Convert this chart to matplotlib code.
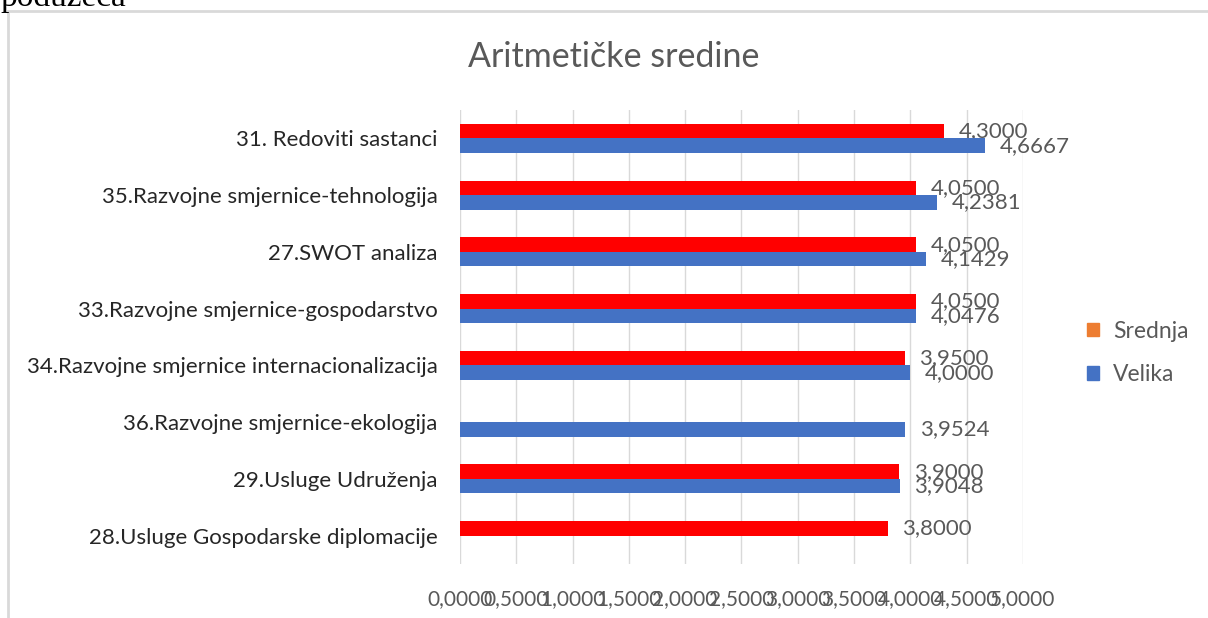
import numpy as np
import matplotlib
matplotlib.use("Agg")
import matplotlib.pyplot as plt
from matplotlib.patches import Patch, Rectangle
from matplotlib.ticker import FuncFormatter, MultipleLocator

# Categories, top to bottom as in the chart
categories = [
    "31. Redoviti sastanci",
    "35.Razvojne smjernice-tehnologija",
    "27.SWOT analiza",
    "33.Razvojne smjernice-gospodarstvo",
    "34.Razvojne smjernice internacionalizacija",
    "36.Razvojne smjernice-ekologija",
    "29.Usluge Udruženja",
    "28.Usluge Gospodarske diplomacije",
]
# Srednja (drawn red in the chart, orange in the legend); None = no bar
srednja = [4.3000, 4.0500, 4.0500, 4.0500, 3.9500, None, 3.9000, 3.8000]
# Velika
velika = [4.6667, 4.2381, 4.1429, 4.0476, 4.0000, 3.9524, 3.9048, None]

plt.rcParams['font.family'] = ['Lato', 'DejaVu Sans']

fig = plt.figure(figsize=(12.08, 6.18), dpi=100)
ax = fig.add_axes([0.3808, 0.0874, 0.466, 0.7346])

def fmt(v):
    return f"{v:.4f}".replace('.', ',')

y = np.arange(len(categories))
h = 0.256
gray = '#595959'

for i, (s, v) in enumerate(zip(srednja, velika)):
    if s is not None:
        ax.barh(y[i] - h / 2, s, height=h, color='#FF0000', zorder=3)
        ax.annotate(fmt(s), (s, y[i] - h / 2), xytext=(10.5, 0), textcoords='offset points',
                    va='center', ha='left', fontsize=16, color=gray)
    if v is not None:
        ax.barh(y[i] + h / 2, v, height=h, color='#4472C4', zorder=3)
        ax.annotate(fmt(v), (v, y[i] + h / 2), xytext=(10.5, 0), textcoords='offset points',
                    va='center', ha='left', fontsize=16, color=gray)

ax.set_ylim(len(categories) - 0.5, -0.5)
ax.set_xlim(0, 5)
ax.xaxis.set_major_locator(MultipleLocator(0.5))
ax.xaxis.set_major_formatter(FuncFormatter(lambda v, p: fmt(v)))
ax.set_yticks(y)
ax.set_yticklabels(categories)
ax.tick_params(axis='x', length=0, pad=18, labelsize=15, labelcolor=gray)
ax.tick_params(axis='y', length=0, pad=16, labelsize=16, labelcolor='#262626')
ax.grid(axis='x', color='#D9D9D9', linewidth=1, zorder=0)
for sp in ax.spines.values():
    sp.set_visible(False)

fig.text(614 / 1208, 1 - 57 / 618, "Aritmetičke sredine", ha='center', va='center',
         fontsize=24.5, color=gray)

handles = [Patch(color='#ED7D31'), Patch(color='#4472C4')]
fig.legend(handles, ["Srednja", "Velika"], loc='center left',
           bbox_to_anchor=(1066 / 1208, 1 - 353 / 618), frameon=False,
           fontsize=16.5, labelcolor=gray, handlelength=0.55, handleheight=0.55,
           handletextpad=0.6, labelspacing=1.0)

# chart frame, cut off on the right and bottom
fig.patches.append(Rectangle((8 / 1208, -0.1), 1.2, 1 - 11 / 618 + 0.1,
                             transform=fig.transFigure, fill=False,
                             edgecolor='#D9D9D9', linewidth=2))
# text from the page above the chart, cut off
fig.text(0, 1 - 6 / 618, "podužeća", ha='left', va='baseline',
         fontsize=24, family='Liberation Serif', color='black')

fig.savefig("out.png", dpi=100)
